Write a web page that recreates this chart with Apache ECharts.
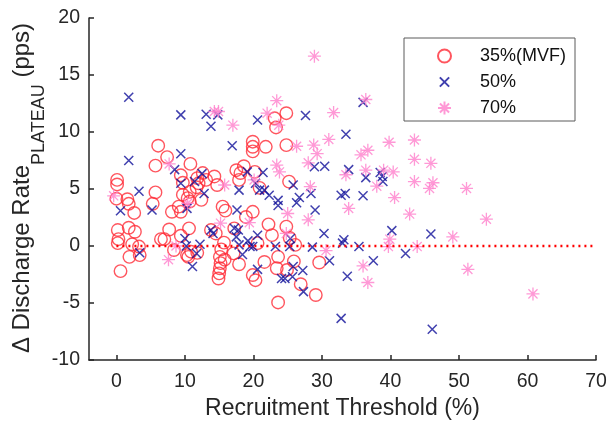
<!DOCTYPE html>
<html>
<head>
<meta charset="utf-8">
<script src="https://cdn.jsdelivr.net/npm/echarts@6/dist/echarts.min.js"></script>
<style>
  html, body { margin: 0; padding: 0; background: #fff; }
  #chart { width: 611px; height: 422px; }
</style>
</head>
<body>
<div id="chart"></div>
<script>
// Axis ticks and legend labels
const xTicks = [0, 10, 20, 30, 40, 50, 60, 70];
const legendNames = ['35%(MVF)', '50%', '70%'];

// 35% MVF plateau: recruitment threshold (%) and change in discharge rate (pps)
const rt35 = [0.1, 0.1, 0.0, 0.2, 0.3, 0.2, 0.6, 1.6, 1.8, 2.6, 1.8, 2.7, 2.3, 1.9, 3.3, 3.4,
  5.3, 5.7, 5.7, 6.1, 7.4, 6.5, 7.0, 7.7, 8.1, 8.4, 9.4, 9.7, 9.1, 9.4, 9.7, 9.4,
  10.8, 10.7, 10.4, 10.7, 10.6, 10.5, 10.9, 11.7, 11.8, 12.4, 12.6, 13.1, 14.3, 14.7,
  13.8, 14.5, 15.5, 15.9, 15.7, 15.3, 15.1, 15.2, 15.1, 14.9, 15.8, 17.1, 17.5, 17.9,
  18.6, 17.9, 17.2, 18.9, 19.9, 19.9, 19.9, 19.9, 21.8, 20.2, 20.9, 20.6, 19.9, 20.3,
  21.6, 22.2, 22.7, 23.1, 23.3, 24.8, 24.8, 25.2, 24.8, 23.6, 23.4, 23.6, 24.9, 25.9,
  26.1, 26.9, 29.1, 29.6, 11.8, 15.0, 10.3, 25.3, 18.1, 12.0];
const dr35 = [5.8, 5.4, 4.15, 1.4, 0.6, 0.25, -2.2, 4.1, 3.7, 2.9, 1.6, 1.25, 0.15, -0.95, -0.05, -0.8,
  3.7, 4.7, 7.05, 8.8, 7.8, 0.6, 0.6, 1.45, 3.0, -0.35, 6.2, 5.55, 3.45, 3.0, 4.5, 0.9,
  7.2, 4.75, 4.2, 3.9, 1.55, -0.95, -0.5, 5.15, 5.95, 4.05, 6.4, 5.8, 6.1, 5.35,
  1.4, 1.1, 3.45, 3.1, 0.3, -0.3, -0.95, -1.5, -1.95, -2.85, -1.2, -0.65, 6.65, 5.8,
  7.0, -1.6, 1.55, 2.55, 3.0, 9.15, 8.7, 8.3, 8.7, 6.5, 5.1, 0.25, -2.55, -3.0,
  -1.4, 1.9, 0.95, 11.2, 10.4, 11.65, 8.85, 5.65, 1.7, -0.95, -1.95, -4.95, -2.1, -1.35,
  0.1, -3.35, -4.3, -1.45, -0.6, -2.4, -0.8, 0.7, 6.4, 5.5];

// 50% MVF plateau
const rt50 = [1.8, 1.8, 0.6, 3.3, 3.4, 5.2, 9.4, 9.4, 8.5, 9.4, 10.3, 10.0, 10.2, 11.1, 11.4,
  11.7, 12.2, 12.5, 12.8, 13.1, 13.8, 14.8, 13.8, 14.1, 16.9, 17.6, 17.9, 17.2, 17.8, 17.5,
  17.9, 18.4, 19.1, 19.2, 19.5, 19.9, 20.6, 20.3, 20.9, 21.4, 21.6, 20.6, 20.6, 22.3, 23.2,
  23.6, 23.6, 24.1, 24.6, 25.3, 25.4, 25.8, 25.8, 26.3, 26.7, 25.7, 27.2, 27.3, 27.6, 28.4,
  28.6, 28.9, 29.0, 30.3, 30.4, 31.1, 32.8, 33.4, 33.0, 33.2, 32.8, 33.5, 33.9, 33.7, 35.4,
  36.0, 36.0, 36.4, 37.5, 38.5, 38.8, 38.9, 40.2, 42.2, 45.9, 46.1];
const dr50 = [13.05, 7.5, 3.1, 4.8, -0.6, 3.15, 11.5, 8.1, 6.7, 5.5, 3.3, 0.65, 0.0, -1.8, 5.65,
  -0.65, 0.15, 6.35, 4.6, 11.55, 10.5, 11.5, 1.4, 1.1, 8.8, 3.15, 4.9, 1.55, 1.4, 0.8,
  0.1, -0.75, 6.5, 0.45, -0.05, -0.05, 11.05, 5.5, 4.9, 6.45, 4.9, 0.95, -2.05, 4.45, -0.05,
  4.0, 3.55, -2.85, -2.85, -0.05, 0.65, -1.8, 5.35, 3.8, 4.25, -2.7, -2.15, -4.0, 11.45, 4.6,
  -0.1, 6.95, 3.15, 1.1, 7.0, -1.3, 4.45, 4.6, 0.25, 0.55, -6.35, 9.8, 6.7, -2.65, -0.05,
  12.6, 4.4, 6.0, -1.3, 6.45, 6.1, 5.65, 1.35, -0.65, 1.05, -7.3];

// 70% MVF plateau
const rt70 = [-0.4, 7.7, 7.6, 8.7, 10.4, 14.3, 14.9, 15.2, 15.8, 17.0, 19.4, 20.1, 22.0, 23.4,
  23.7, 23.4, 23.8, 25.0, 24.8, 26.3, 28.9, 28.0, 28.3, 28.0, 28.8, 29.3, 30.6, 31.0, 31.7,
  33.5, 33.9, 35.7, 36.0, 36.4, 36.7, 36.4, 36.7, 38.0, 39.0, 39.7, 39.9, 39.8, 40.4, 40.6,
  42.8, 43.5, 43.5, 43.5, 43.9, 45.9, 45.7, 46.2, 49.1, 51.1, 51.3, 54.0, 60.8];
const dr70 = [4.4, 7.2, -1.2, 0.0, 3.75, 11.8, 11.8, 2.0, 5.35, 10.6, 2.05, 5.8, 11.65, 12.75,
  10.6, 7.1, 6.5, 2.85, 1.1, 8.75, 16.65, 7.3, 5.2, 2.3, 8.85, 8.1, -0.4, 9.35, 11.7,
  6.25, 3.3, 8.0, -1.75, 12.85, 8.4, 6.65, -3.2, 5.25, 6.65, -0.05, 0.6, 9.1, 6.5, 4.25,
  2.8, 9.3, 7.6, 5.65, -0.05, 7.25, 5.05, 5.55, 0.8, 5.05, -2.05, 2.35, -4.2];

// Zero reference line endpoints
const zeroLineX = [0, 70];
const zeroLineY = [0, 0];

const FONT = '"Liberation Sans", Arial, Helvetica, sans-serif';
const TEXT = '#262626';
const pairs = (xs, ys) => xs.map((x, i) => [x, ys[i]]);

// Marker shapes
const CROSS = 'path://M0,0L10,10M10,0L0,10';
const CROSS_ICON = 'path://M-2,-2M0,0L10,10M10,0L0,10M12,12';
const STAR = 'path://M5,0L5,10M0,5L10,5M1.5,1.5L8.5,8.5M8.5,1.5L1.5,8.5';

// Y-axis title with a lowered subscript, laid out from measured text widths
const measureCtx = document.createElement('canvas').getContext('2d');
function textWidth(str, size) {
  measureCtx.font = size + 'px ' + FONT;
  return measureCtx.measureText(str).width;
}
const mainSize = 24, subSize = 18;
const titleParts = ['\u0394 Discharge Rate', 'PLATEAU', ' (pps)'];
const w1 = textWidth(titleParts[0], mainSize);
const w2 = textWidth(titleParts[1], subSize);
const w3 = textWidth(titleParts[2], mainSize);
const titleLen = w1 + w2 + w3;
const titleCenterY = 188;
const mainCenter = 22.5;      // horizontal centre of the main text line
const subCenter = 39.5;       // horizontal centre of the subscript

const chart = echarts.init(document.getElementById('chart'), null, { renderer: 'canvas' });
chart.setOption({
  animation: false,
  backgroundColor: '#fff',
  grid: { left: 89, top: 18, width: 507, height: 342, containLabel: false, outerBoundsMode: 'none' },
  legend: {
    orient: 'vertical', left: 404, top: 38,
    padding: [8, 9, 3, 33], itemGap: 6, itemWidth: 13, itemHeight: 13,
    borderColor: '#5a5a5a', borderWidth: 1, backgroundColor: '#fff',
    textStyle: { fontSize: 18, fontFamily: FONT, color: '#111', lineHeight: 20, padding: [0, 0, 0, 24] },
    data: [
      { name: legendNames[0] },
      { name: legendNames[1], icon: CROSS_ICON },
      { name: legendNames[2] }
    ]
  },
  xAxis: {
    type: 'value', min: -4, max: 70,
    axisLine: { show: true, onZero: false, lineStyle: { color: TEXT, width: 1.5 } },
    axisTick: { show: true, inside: true, length: 5, customValues: xTicks, lineStyle: { color: TEXT, width: 1.5 } },
    axisLabel: { customValues: xTicks, fontSize: 19.5, fontFamily: FONT, color: TEXT, margin: 12 },
    splitLine: { show: false },
    name: 'Recruitment Threshold (%)', nameLocation: 'middle', nameGap: 28,
    nameTextStyle: { fontSize: 23, fontFamily: FONT, color: TEXT }
  },
  yAxis: {
    type: 'value', min: -10, max: 20, interval: 5,
    axisLine: { show: true, onZero: false, lineStyle: { color: TEXT, width: 1.5 } },
    axisTick: { show: true, inside: true, length: 5, lineStyle: { color: TEXT, width: 1.5 } },
    axisLabel: { fontSize: 19.5, fontFamily: FONT, color: TEXT, margin: 9 },
    splitLine: { show: false }
  },
  graphic: [{
    type: 'group', x: 0, y: titleCenterY + titleLen / 2, rotation: Math.PI / 2,
    children: [
      { type: 'text', x: 0, y: mainCenter,
        style: { text: titleParts[0], fontSize: mainSize, fontFamily: FONT, fill: TEXT, align: 'left', verticalAlign: 'middle' } },
      { type: 'text', x: w1, y: subCenter,
        style: { text: titleParts[1], fontSize: subSize, fontFamily: FONT, fill: TEXT, align: 'left', verticalAlign: 'middle' } },
      { type: 'text', x: w1 + w2, y: mainCenter,
        style: { text: titleParts[2], fontSize: mainSize, fontFamily: FONT, fill: TEXT, align: 'left', verticalAlign: 'middle' } }
    ]
  }],
  series: [
    {
      name: legendNames[0], type: 'scatter', data: pairs(rt35, dr35),
      symbol: 'circle', symbolSize: 12.5,
      itemStyle: { color: 'rgba(0,0,0,0)', borderColor: '#ff2a36', borderWidth: 1.4 }
    },
    {
      name: legendNames[1], type: 'scatter', data: pairs(rt50, dr50),
      symbol: CROSS, symbolSize: 9,
      itemStyle: { color: 'rgba(0,0,0,0)', borderColor: '#10109a', borderWidth: 1.5 }
    },
    {
      name: legendNames[2], type: 'scatter', data: pairs(rt70, dr70),
      symbol: STAR, symbolSize: 13,
      itemStyle: { color: 'rgba(0,0,0,0)', borderColor: '#ff80cc', borderWidth: 1.3 }
    },
    {
      type: 'line', data: pairs(zeroLineX, zeroLineY), symbol: 'none', silent: true,
      lineStyle: { color: '#ff0000', width: 2.5, type: [2, 4] }, z: 3
    }
  ]
});
</script>
</body>
</html>
